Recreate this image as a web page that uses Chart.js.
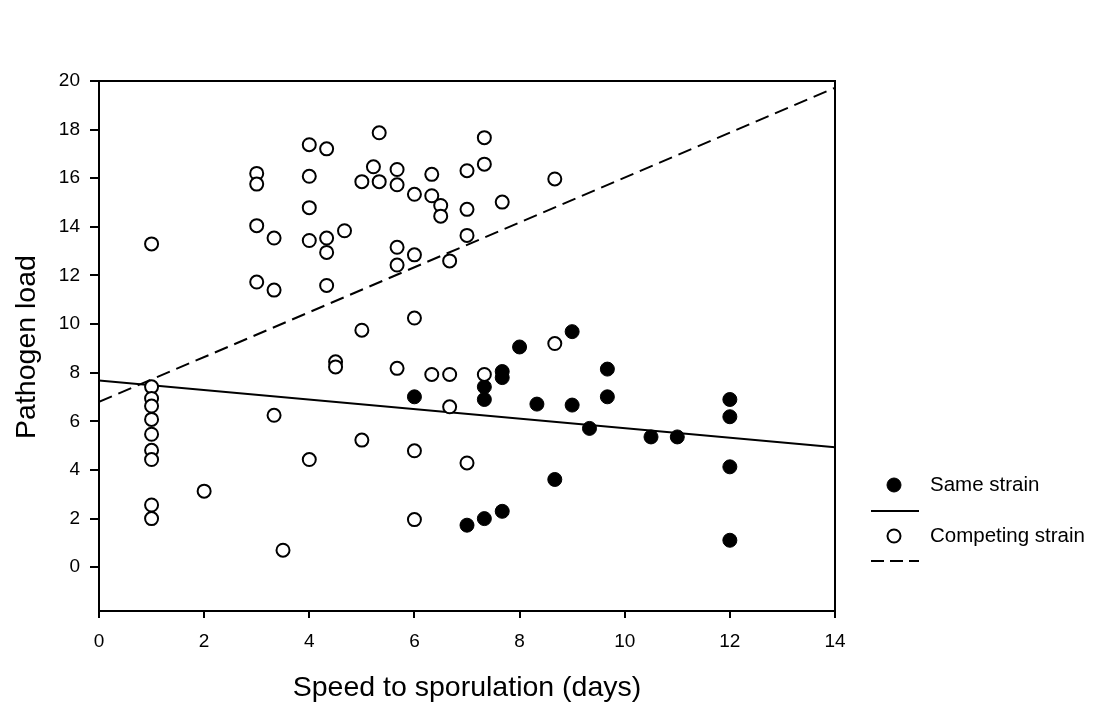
<!DOCTYPE html>
<html>
<head>
<meta charset="utf-8">
<script src="https://cdn.jsdelivr.net/npm/chart.js@4"></script>
<style>
  html, body { margin: 0; padding: 0; background: #fff; }
  canvas { display: block; }
</style>
</head>
<body>
<canvas id="chart" width="1109" height="710"></canvas>
<script>
// values
const sameX = [6, 7, 7.33, 7.33, 7.33, 7.67, 7.67, 7.67, 8, 8.33, 8.67, 9, 9, 9.33, 9.67, 9.67, 10.5, 11, 12, 12, 12, 12];
const sameY = [7.01, 1.73, 7.42, 6.9, 2.0, 8.05, 7.8, 2.3, 9.06, 6.71, 3.61, 9.69, 6.67, 5.71, 8.15, 7.01, 5.36, 5.36, 6.9, 6.19, 4.13, 1.11];

const compX = [1, 1, 1, 1, 1, 1, 1, 1, 1, 1,
  2, 3, 3, 3, 3, 3.33, 3.33, 3.33, 3.5,
  4, 4, 4, 4, 4, 4.33, 4.33, 4.33, 4.33, 4.5, 4.5, 4.67,
  5, 5, 5, 5.22, 5.33, 5.33,
  5.67, 5.67, 5.67, 5.67, 5.67, 6, 6, 6, 6, 6,
  6.33, 6.33, 6.33, 6.5, 6.5, 6.67, 6.67, 6.67,
  7, 7, 7, 7, 7.33, 7.33, 7.33, 7.67, 8.67, 8.67];
const compY = [13.3, 7.42, 6.94, 6.63, 6.08, 5.47, 4.81, 4.43, 2.56, 2.0,
  3.13, 16.2, 15.76, 14.05, 11.73, 13.54, 11.4, 6.25, 0.7,
  17.38, 16.08, 14.79, 13.44, 4.43, 17.21, 13.54, 12.95, 11.59, 8.45, 8.24, 13.84,
  15.86, 9.75, 5.23, 16.47, 17.87, 15.86,
  16.36, 15.73, 13.16, 12.43, 8.18, 15.34, 12.85, 10.25, 4.79, 1.96,
  16.16, 15.28, 7.93, 14.88, 14.44, 12.6, 7.93, 6.6,
  16.31, 14.72, 13.65, 4.29, 17.67, 16.58, 7.93, 15.02, 15.97, 9.2];

// fitted lines, end points
const fitX = [0, 14];
const sameFitY = [7.68, 4.94];
const compFitY = [6.8, 19.72];

const xTicks = [0, 2, 4, 6, 8, 10, 12, 14];
const yTicks = [0, 2, 4, 6, 8, 10, 12, 14, 16, 18, 20];

const FONT = "'Liberation Sans', Arial, sans-serif";

function pairs(xs, ys) {
    return xs.map((x, i) => ({ x: x, y: ys[i] }));
}

const extras = {
    id: "extras",
    afterDraw(chart) {
        const ctx = chart.ctx;
        const a = chart.chartArea;
        ctx.save();
        ctx.strokeStyle = "#000";
        ctx.lineWidth = 2;
        ctx.beginPath();
        ctx.moveTo(a.left, a.top);
        ctx.lineTo(a.right, a.top);
        ctx.lineTo(a.right, a.bottom);
        ctx.stroke();

        // axis titles
        ctx.fillStyle = "#000";
        ctx.font = "28.5px " + FONT;
        ctx.textAlign = "center";
        ctx.textBaseline = "alphabetic";
        ctx.fillText("Speed to sporulation (days)", 467, 696);
        ctx.save();
        ctx.translate(35, 347);
        ctx.rotate(-Math.PI / 2);
        ctx.fillText("Pathogen load", 0, 0);
        ctx.restore();

        // legend
        ctx.font = "20.5px " + FONT;
        ctx.textAlign = "left";
        ctx.textBaseline = "middle";
        ctx.fillText("Same strain", 930, 485);
        ctx.fillText("Competing strain", 930, 536);

        ctx.beginPath();
        ctx.arc(894, 485, 7, 0, Math.PI * 2);
        ctx.fill();
        ctx.lineWidth = 1;
        ctx.stroke();

        ctx.beginPath();
        ctx.arc(894, 536, 6.5, 0, Math.PI * 2);
        ctx.fillStyle = "#fff";
        ctx.fill();
        ctx.lineWidth = 2;
        ctx.stroke();

        ctx.beginPath();
        ctx.moveTo(871, 511);
        ctx.lineTo(919, 511);
        ctx.stroke();

        ctx.setLineDash([13, 6]);
        ctx.beginPath();
        ctx.moveTo(871, 561);
        ctx.lineTo(919, 561);
        ctx.stroke();
        ctx.restore();
    }
};

new Chart(document.querySelector("#chart"), {
    type: "scatter",
    data: {
        datasets: [
            {
                label: "Competing strain",
                data: pairs(compX, compY),
                pointRadius: 6.5,
                pointBorderWidth: 2,
                pointBorderColor: "#000",
                pointBackgroundColor: "#fff",
                order: 1
            },
            {
                label: "Same strain",
                data: pairs(sameX, sameY),
                pointRadius: 7,
                pointBorderWidth: 1,
                pointBorderColor: "#000",
                pointBackgroundColor: "#000",
                order: 2
            },
            {
                type: "line",
                label: "Same fit",
                data: pairs(fitX, sameFitY),
                borderColor: "#000",
                borderWidth: 2,
                pointRadius: 0,
                fill: false,
                order: 3
            },
            {
                type: "line",
                label: "Competing fit",
                data: pairs(fitX, compFitY),
                borderColor: "#000",
                borderWidth: 2,
                borderDash: [14, 7],
                pointRadius: 0,
                fill: false,
                order: 3
            }
        ]
    },
    options: {
        responsive: false,
        animation: false,
        devicePixelRatio: 1,
        layout: { padding: { left: 0, top: 81, right: 274, bottom: 0 } },
        plugins: {
            legend: { display: false },
            tooltip: { enabled: false }
        },
        scales: {
            x: {
                type: "linear",
                min: 0,
                max: 14,
                afterBuildTicks: s => { s.ticks = xTicks.map(v => ({ value: v })); },
                afterFit: s => { s.height = 99; },
                ticks: { color: "#000", font: { size: 19, family: FONT }, padding: 12 },
                grid: { drawOnChartArea: false, color: "#000", lineWidth: 2, tickLength: 7 },
                border: { color: "#000", width: 2 }
            },
            y: {
                type: "linear",
                min: -1.8,
                max: 20,
                afterBuildTicks: s => { s.ticks = yTicks.map(v => ({ value: v })); },
                afterFit: s => { s.width = 99; },
                ticks: { color: "#000", font: { size: 19, family: FONT }, padding: 10 },
                grid: { drawOnChartArea: false, color: "#000", lineWidth: 2, tickLength: 9 },
                border: { color: "#000", width: 2 }
            }
        }
    },
    plugins: [extras]
});
</script>
</body>
</html>
